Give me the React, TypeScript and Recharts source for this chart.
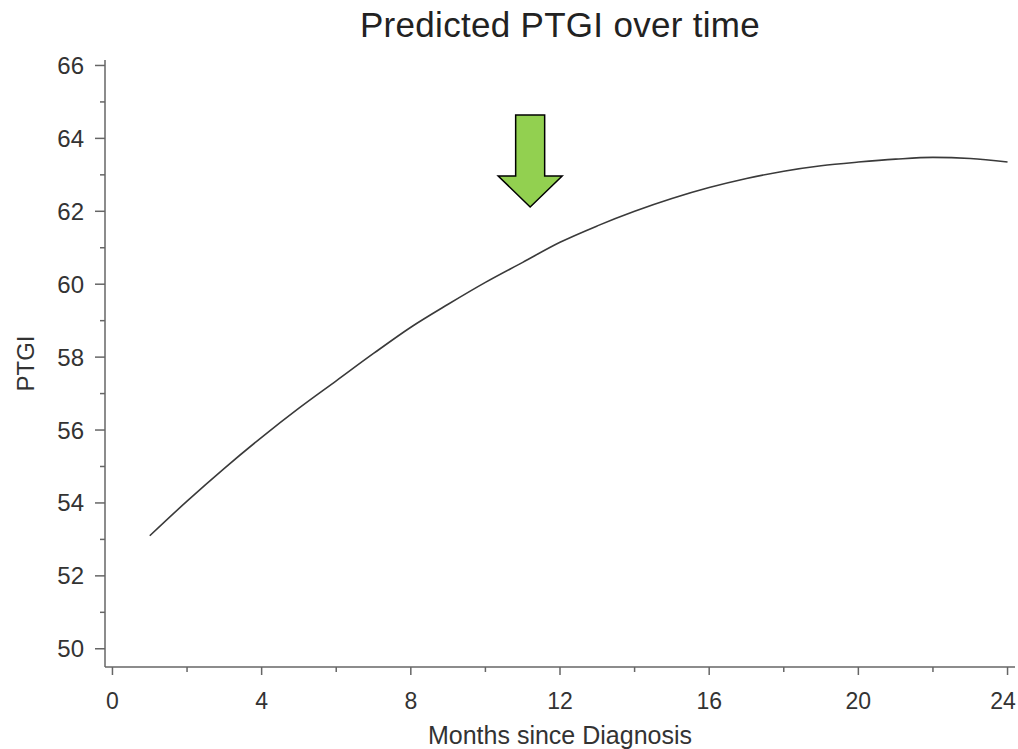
import React from 'react';
import { LineChart, Line, XAxis, YAxis, ReferenceDot } from 'recharts';

const months = [1, 2, 3, 4, 5, 6, 7, 8, 9, 10, 11, 12, 13, 14, 15, 16, 17, 18, 19, 20, 21, 22, 23, 24];
const ptgi = [53.1, 54.05, 54.95, 55.8, 56.6, 57.35, 58.1, 58.82, 59.45, 60.05, 60.6, 61.15, 61.6, 62.0, 62.35, 62.65, 62.9, 63.1, 63.25, 63.35, 63.43, 63.48, 63.45, 63.35];

const xTicks = [0, 2, 4, 6, 8, 10, 12, 14, 16, 18, 20, 22, 24];
const yTicks = [50, 51, 52, 53, 54, 55, 56, 57, 58, 59, 60, 61, 62, 63, 64, 65, 66];

const arrowTip = { month: 11.2, value: 62.12 };

const title = 'Predicted PTGI over time';
const xLabel = 'Months since Diagnosis';
const yLabel = 'PTGI';

const data = months.map((m, i) => ({ month: m, ptgi: ptgi[i] }));

const W = 1018;
const H = 749;
const FONT = '"Liberation Sans", Arial, sans-serif';
const AXIS = '#666';
const TEXT = '#333';

const XTick = (props: any) => {
  const { x, y, payload } = props;
  const major = payload.value % 4 === 0;
  const tx = Math.min(x, W - 15);
  return (
    <g>
      <line x1={x} x2={x} y1={y} y2={y + (major ? 8 : 5)} stroke={AXIS} strokeWidth={1.5} />
      {major && (
        <text x={tx} y={y + 34} textAnchor="middle" dominantBaseline="central" fontSize={23} fill={TEXT} fontFamily={FONT}>
          {payload.value}
        </text>
      )}
    </g>
  );
};

const YTick = (props: any) => {
  const { x, y, payload } = props;
  const major = payload.value % 2 === 0;
  return (
    <g>
      <line x1={x - (major ? 10 : 5)} x2={x} y1={y} y2={y} stroke={AXIS} strokeWidth={1.5} />
      {major && (
        <text x={x - 21} y={y} textAnchor="end" dominantBaseline="central" fontSize={24} fill={TEXT} fontFamily={FONT}>
          {payload.value}
        </text>
      )}
    </g>
  );
};

const Arrow = (props: any) => {
  const { cx, cy } = props;
  if (cx == null || cy == null) return <g />;
  const pts = [
    [cx, cy],
    [cx - 32, cy - 31],
    [cx - 14.5, cy - 31],
    [cx - 14.5, cy - 92],
    [cx + 14.5, cy - 92],
    [cx + 14.5, cy - 31],
    [cx + 32, cy - 31],
  ]
    .map((p) => p.join(','))
    .join(' ');
  return <polygon points={pts} fill="#92d050" stroke="#000" strokeWidth={1.5} strokeLinejoin="miter" />;
};

export default function App() {
  return (
    <div style={{ position: 'absolute', left: 0, top: 0, width: W, height: H, background: '#fff', fontFamily: FONT }}>
      <div
        style={{
          position: 'absolute',
          left: 260,
          top: 5,
          width: 600,
          textAlign: 'center',
          fontSize: 35,
          lineHeight: '40px',
          letterSpacing: '0.3px',
          color: '#222',
        }}
      >
        {title}
      </div>
      <LineChart width={W} height={H} data={data} margin={{ top: 60, right: 3, left: 45, bottom: 32 }}>
        <XAxis
          dataKey="month"
          type="number"
          domain={[-0.2, 24.2]}
          ticks={xTicks}
          interval={0}
          allowDataOverflow
          height={50}
          stroke={AXIS}
          strokeWidth={1.5}
          tickSize={0}
          tickMargin={0}
          tick={<XTick />}
          label={{
            content: (p: any) => {
              const vb = p.viewBox || {};
              return (
                <text x={vb.x + vb.width / 2} y={vb.y + 68} textAnchor="middle" dominantBaseline="central" fontSize={25} fill={TEXT} fontFamily={FONT}>
                  {xLabel}
                </text>
              );
            },
          }}
        />
        <YAxis
          type="number"
          domain={[49.5, 66.15]}
          ticks={yTicks}
          interval={0}
          allowDataOverflow
          width={60}
          stroke={AXIS}
          strokeWidth={1.5}
          tickSize={0}
          tickMargin={0}
          tick={<YTick />}
          label={{
            content: (p: any) => {
              const vb = p.viewBox || {};
              const cx = vb.x - 20;
              const cy = vb.y + vb.height / 2;
              return (
                <text x={cx} y={cy} transform={`rotate(-90 ${cx} ${cy})`} textAnchor="middle" dominantBaseline="central" fontSize={24} fill={TEXT} fontFamily={FONT}>
                  {yLabel}
                </text>
              );
            },
          }}
        />
        <Line type="monotone" dataKey="ptgi" stroke="#3a3a3a" strokeWidth={1.6} dot={false} isAnimationActive={false} />
        <ReferenceDot x={arrowTip.month} y={arrowTip.value} r={0} shape={<Arrow />} ifOverflow="visible" />
      </LineChart>
    </div>
  );
}
